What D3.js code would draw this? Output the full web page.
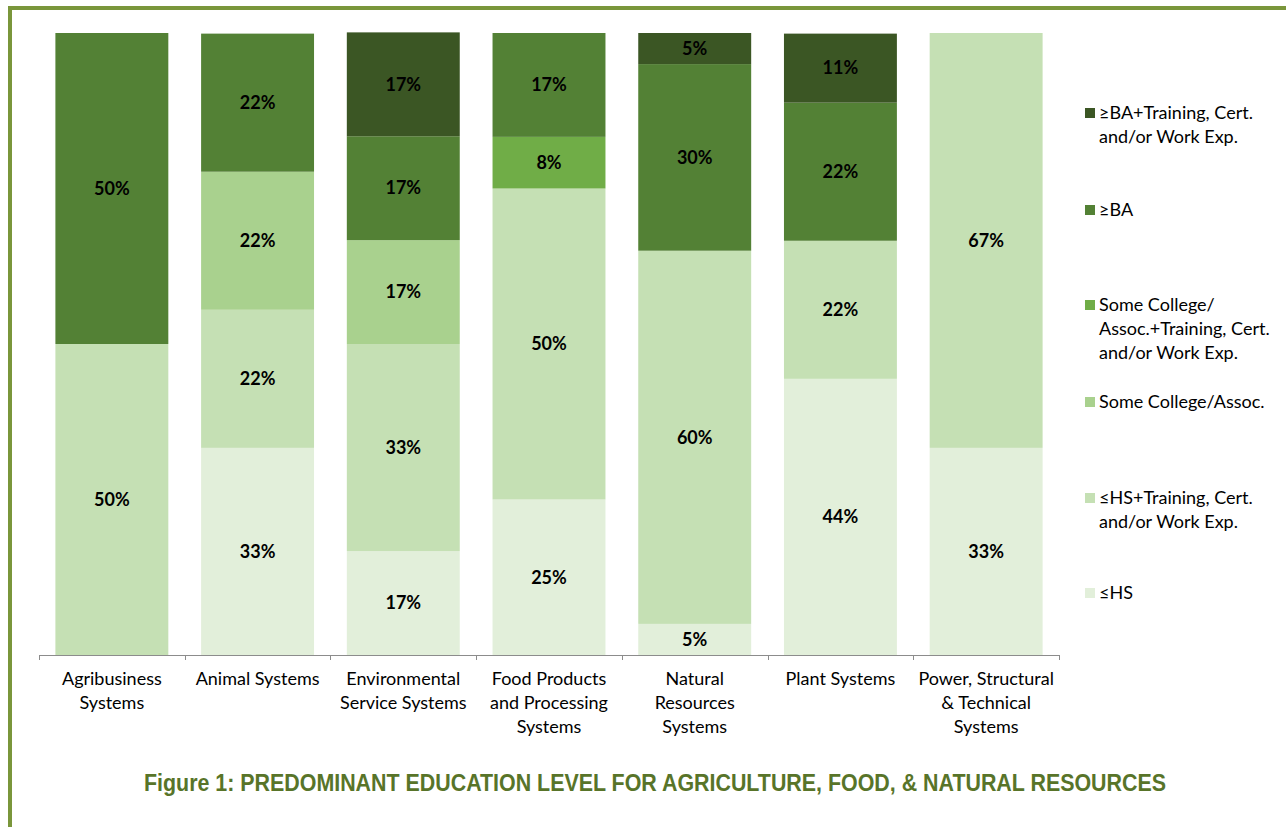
<!DOCTYPE html>
<html>
<head>
<meta charset="utf-8">
<script src="https://cdn.jsdelivr.net/npm/d3@7"></script>
<style>
  html, body { margin: 0; padding: 0; background: #fff; }
  svg { display: block; }
</style>
</head>
<body>
<svg id="chart" width="1286" height="827"></svg>
<script>
// ---- Data ----
const categories = [
  "Agribusiness Systems",
  "Animal Systems",
  "Environmental Service Systems",
  "Food Products and Processing Systems",
  "Natural Resources Systems",
  "Plant Systems",
  "Power, Structural & Technical Systems"
];
const categoryLines = [
  ["Agribusiness", "Systems"],
  ["Animal Systems"],
  ["Environmental", "Service Systems"],
  ["Food Products", "and Processing", "Systems"],
  ["Natural", "Resources", "Systems"],
  ["Plant Systems"],
  ["Power, Structural", "& Technical", "Systems"]
];
// series listed bottom to top of the stack
const seriesNames = [
  "≤HS",
  "≤HS+Training, Cert. and/or Work Exp.",
  "Some College/Assoc.",
  "Some College/ Assoc.+Training, Cert. and/or Work Exp.",
  "≥BA",
  "≥BA+Training, Cert. and/or Work Exp."
];
const hsValues        = [0,    33.3, 16.7, 25,   5,  44.4, 33.3];
const hsTrainValues   = [50,   22.2, 33.3, 50,   60, 22.2, 66.7];
const someColValues   = [0,    22.2, 16.7, 0,    0,  0,    0];
const someColTrValues = [0,    0,    0,    8.3,  0,  0,    0];
const baValues        = [50,   22.2, 16.7, 16.7, 30, 22.2, 0];
const baTrainValues   = [0,    0,    16.7, 0,    5,  11.1, 0];
const seriesValues = [hsValues, hsTrainValues, someColValues, someColTrValues, baValues, baTrainValues];
const colors = ["#e2efda", "#c5e0b4", "#a9d18e", "#70ad47", "#538135", "#3b5624"];

// legend (top to bottom)
const legendLines = [
  ["≥BA+Training, Cert.", "and/or Work Exp."],
  ["≥BA"],
  ["Some College/", "Assoc.+Training, Cert.", "and/or Work Exp."],
  ["Some College/Assoc."],
  ["≤HS+Training, Cert.", "and/or Work Exp."],
  ["≤HS"]
];
const legendSeriesIndex = [5, 4, 3, 2, 1, 0];
const titleText = "Figure 1:  PREDOMINANT EDUCATION LEVEL FOR AGRICULTURE, FOOD, & NATURAL RESOURCES";

// ---- Layout ----
const svg = d3.select("#chart");
const W = 1286, H = 827;
const plot = { left: 39, right: 1059, top: 33, bottom: 655 };
const FONT = "Lato, 'Open Sans', sans-serif";

// border frame
svg.append("path")
  .attr("d", `M10,${H + 5} L10,8 L${W + 5},8`)
  .attr("fill", "none")
  .attr("stroke", "#7a963b")
  .attr("stroke-width", 4);

const x = d3.scaleBand().domain(categories).range([plot.left, plot.right])
  .paddingInner(0.225).paddingOuter(0.1125);
const y = d3.scaleLinear().domain([0, 100]).range([plot.bottom, plot.top]);

const rows = categories.map((c, i) => {
  const r = { cat: c };
  seriesNames.forEach((s, j) => r[s] = seriesValues[j][i]);
  return r;
});
const stack = d3.stack().keys(seriesNames)(rows);

const g = svg.append("g");
stack.forEach((layer, j) => {
  const lg = g.append("g").attr("fill", colors[j]);
  layer.forEach((d, i) => {
    const v = d[1] - d[0];
    if (v <= 0) return;
    lg.append("rect")
      .attr("x", x(categories[i]))
      .attr("width", x.bandwidth())
      .attr("y", y(d[1]))
      .attr("height", y(d[0]) - y(d[1]));
    g.append("text")
      .attr("x", x(categories[i]) + x.bandwidth() / 2)
      .attr("y", (y(d[0]) + y(d[1])) / 2)
      .attr("dy", "0.35em")
      .attr("text-anchor", "middle")
      .attr("font-family", FONT)
      .attr("font-weight", "bold")
      .attr("font-size", 18)
      .attr("fill", "#000")
      .text(Math.round(v) + "%");
  });
});

// x axis
const axisG = svg.append("g").attr("transform", `translate(0,${plot.bottom})`);
axisG.append("line")
  .attr("x1", plot.left).attr("x2", plot.right)
  .attr("y1", 0.5).attr("y2", 0.5)
  .attr("stroke", "#8c8c8c").attr("stroke-width", 1);
const tickXs = categories.map(c => x(c) - x.step() * x.paddingInner() / 2);
tickXs.push(plot.right);
tickXs.forEach(tx => {
  axisG.append("line")
    .attr("x1", Math.round(tx) + 0.5).attr("x2", Math.round(tx) + 0.5)
    .attr("y1", 0).attr("y2", 5)
    .attr("stroke", "#8c8c8c");
});
categories.forEach((c, i) => {
  const t = axisG.append("text")
    .attr("x", x(c) + x.bandwidth() / 2)
    .attr("y", 30)
    .attr("text-anchor", "middle")
    .attr("font-family", FONT)
    .attr("font-size", 18)
    .attr("fill", "#000");
  categoryLines[i].forEach((ln, k) => {
    t.append("tspan").attr("x", x(c) + x.bandwidth() / 2).attr("dy", k === 0 ? 0 : 24).text(ln);
  });
});

// legend
const legendY = [113, 210, 305, 402, 498, 593];
legendLines.forEach((lines, k) => {
  const yy = legendY[k];
  svg.append("rect")
    .attr("x", 1085).attr("y", yy - 5).attr("width", 10).attr("height", 10)
    .attr("fill", colors[legendSeriesIndex[k]]);
  const t = svg.append("text")
    .attr("x", 1099).attr("y", yy + 6)
    .attr("font-family", FONT)
    .attr("font-size", 18)
    .attr("fill", "#000");
  lines.forEach((ln, m) => {
    t.append("tspan").attr("x", 1099).attr("dy", m === 0 ? 0 : 24).text(ln);
  });
});

// title
svg.append("text")
  .attr("x", 655).attr("y", 791)
  .attr("text-anchor", "middle")
  .attr("font-family", "'Liberation Sans Narrow', 'Arial Narrow', 'Liberation Sans', sans-serif")
  .attr("font-weight", "bold")
  .attr("font-size", 23)
  .attr("fill", "#587429")
  .attr("textLength", 1022)
  .attr("lengthAdjust", "spacingAndGlyphs")
  .text(titleText);
</script>
</body>
</html>
